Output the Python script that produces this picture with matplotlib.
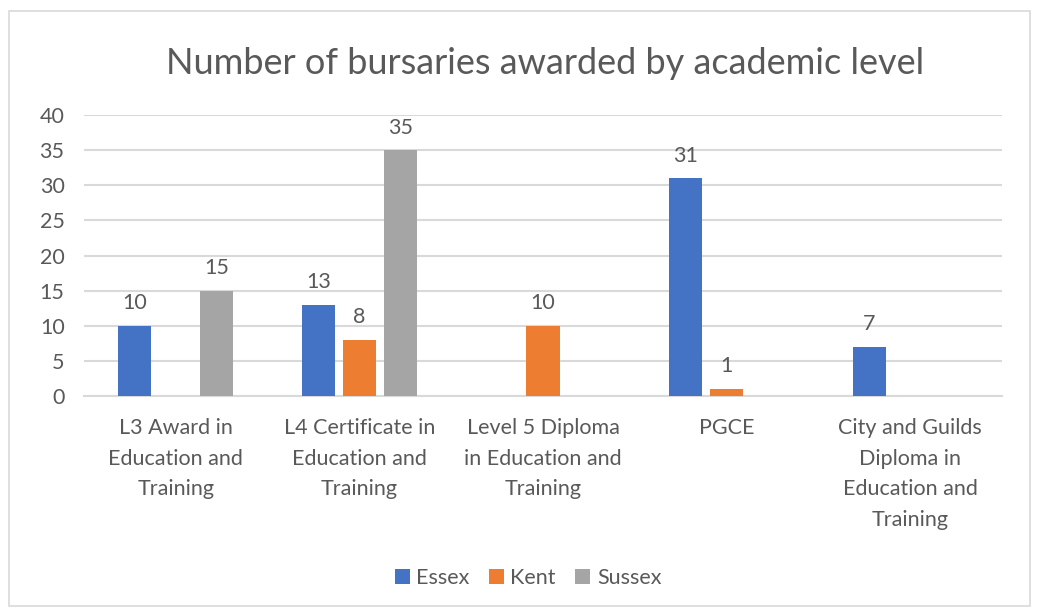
import matplotlib
matplotlib.use("Agg")
import matplotlib.pyplot as plt
from matplotlib.patches import Rectangle
import numpy as np

plt.rcParams['font.family'] = ['Lato', 'DejaVu Sans']

categories = [
    "L3 Award in\nEducation and\nTraining",
    "L4 Certificate in\nEducation and\nTraining",
    "Level 5 Diploma\nin Education and\nTraining",
    "PGCE",
    "City and Guilds\nDiploma in\nEducation and\nTraining",
]
series_names = ["Essex", "Kent", "Sussex"]
essex = [10, 13, 0, 31, 7]
kent = [0, 8, 10, 1, 0]
sussex = [15, 35, 0, 0, 0]
y_ticks = [0, 5, 10, 15, 20, 25, 30, 35, 40]

colors = ["#4472C4", "#ED7D31", "#A5A5A5"]
text_color = "#595959"
grid_color = "#D9D9D9"
fs = 15.5

fig = plt.figure(figsize=(10.38, 6.08), dpi=100)
fig.patch.set_facecolor("white")

# chart frame
fig.patches.append(Rectangle((9 / 1038, 1 - 606 / 608), 1021 / 1038, 595 / 608,
                             transform=fig.transFigure, fill=False,
                             edgecolor="#D9D9D9", linewidth=1.2))

ax = fig.add_axes([84 / 1038, 1 - 396 / 608, 918 / 1038, 281 / 608])

x = np.arange(len(categories))
width = 0.18
step = 0.223
for i, (name, vals, c) in enumerate(zip(series_names, [essex, kent, sussex], colors)):
    pos = x + (i - 1) * step
    shown = [v if v > 0 else np.nan for v in vals]
    ax.bar(pos, shown, width, color=c, label=name, zorder=3)
    for p, v in zip(pos, vals):
        if v > 0:
            ax.annotate(str(v), (p, v), xytext=(0, 9), textcoords="offset points",
                        ha="center", va="bottom", fontsize=fs, color=text_color)

ax.set_xlim(-0.5, len(categories) - 0.5)
ax.set_ylim(0, 40)
ax.set_yticks(y_ticks)
ax.set_yticklabels([str(t) for t in y_ticks], fontsize=fs, color=text_color)
ax.set_xticks(x)
ax.set_xticklabels(categories, fontsize=fs, color=text_color, linespacing=1.66, va="top")
ax.tick_params(axis="both", length=0)
ax.tick_params(axis="x", pad=16)
ax.tick_params(axis="y", pad=14)
ax.grid(axis="y", color=grid_color, linewidth=1.5, zorder=0)
for s in ["top", "right", "left"]:
    ax.spines[s].set_visible(False)
ax.spines["bottom"].set_color(grid_color)
ax.spines["bottom"].set_linewidth(1.5)

fig.text(545 / 1038, 1 - 64 / 608, "Number of bursaries awarded by academic level",
         ha="center", va="center", fontsize=26, color=text_color)

handles, labels = ax.get_legend_handles_labels()
fig.legend(handles, labels, loc="center", bbox_to_anchor=(528 / 1038, 1 - 578 / 608),
           ncol=3, frameon=False, fontsize=fs, labelcolor=text_color,
           handlelength=0.7, handleheight=0.7, handletextpad=0.3, columnspacing=0.9)

fig.savefig("out.png", dpi=100, facecolor="white")
